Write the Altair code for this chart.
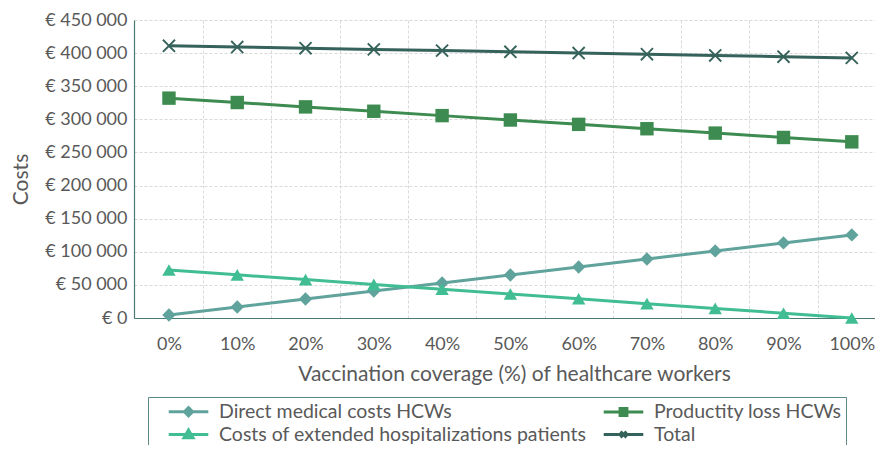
import altair as alt
import pandas as pd

coverage = [0, 10, 20, 30, 40, 50, 60, 70, 80, 90, 100]
direct_medical = [4500, 16600, 28700, 40800, 52900, 65000, 77100, 89200, 101300, 113400, 125500]
productivity_loss = [332000, 325400, 318800, 312200, 305600, 299000, 292400, 285800, 279200, 272600, 266000]
extended_hosp = [72500, 65200, 58000, 50700, 43500, 36200, 29000, 21700, 14500, 7200, 0]
total = [411000, 409200, 407400, 405600, 403800, 402000, 400100, 398300, 396500, 394600, 392800]

# legend order (column-major in two columns): Direct / Costs | Productity / Total
series_names = [
    "Direct medical costs HCWs",
    "Costs of extended hospitalizations patients",
    "Productity loss HCWs",
    "Total",
]
series_values = [direct_medical, extended_hosp, productivity_loss, total]
series_colors = ["#5fa39c", "#41bd94", "#3d8b50", "#35625a"]

X_PATH = "M-1,-0.8L-0.8,-1L0,-0.2L0.8,-1L1,-0.8L0.2,0L1,0.8L0.8,1L0,0.2L-0.8,1L-1,0.8L-0.2,0Z"
marker_shapes = ["diamond", "triangle-up", "square", X_PATH]
legend_shapes = [
    "M-2.2,0H2.2M0,-0.45L0.45,0L0,0.45L-0.45,0Z",
    "M-2.2,0H2.2M0,-0.5L0.5,0.36H-0.5Z",
    "M-2.2,0H2.2M-0.38,-0.38H0.38V0.38H-0.38Z",
    "M-2.2,0H2.2M-0.33,-0.33L0.33,0.33M-0.33,0.33L0.33,-0.33",
]

x_ticks = [0, 5, 10, 15, 20, 25, 30, 35, 40, 45, 50, 55, 60, 65, 70, 75, 80, 85, 90, 95, 100]
y_ticks = [0, 50000, 100000, 150000, 200000, 250000, 300000, 350000, 400000, 450000]

rows = []
for name, vals in zip(series_names, series_values):
    for c, v in zip(coverage, vals):
        rows.append({"coverage": c, "cost": v, "series": name})
df = pd.DataFrame(rows)

FONT = "Lato"
TXT = "#595959"
AXC = "#4a7a73"

x_enc = alt.X(
    "coverage:Q",
    scale=alt.Scale(domain=[-5.12, 103.4], nice=False, zero=False),
    axis=alt.Axis(
        title="Vaccination coverage (%) of healthcare workers",
        values=x_ticks,
        labelExpr="datum.value % 10 == 0 ? datum.value + '%' : ''",
        gridOpacity={"condition": {"test": "datum.value % 10 == 0", "value": 0}, "value": 1},
        grid=True,
        ticks=False,
        labelFlush=False,
        labelOverlap=False,
        labelPadding=17,
        titlePadding=10,
        titleX=380,
    ),
)
y_enc = alt.Y(
    "cost:Q",
    scale=alt.Scale(domain=[0, 450000], nice=False),
    axis=alt.Axis(
        title="Costs",
        values=y_ticks,
        labelExpr="'€ ' + replace(format(datum.value, ',.0f'), regexp(',', 'g'), ' ')",
        labelOverlap=False,
        grid=True,
        ticks=False,
        labelPadding=7,
        titlePadding=13,
        titleY=159,
    ),
)

# line colours: same mapping, listed in reverse so this scale stays separate from the legend's
line_color_scale = alt.Scale(domain=series_names[::-1], range=series_colors[::-1])
legend_color_scale = alt.Scale(domain=series_names, range=series_colors)

lines = alt.Chart(df).mark_line(strokeWidth=3).encode(
    x=x_enc,
    y=y_enc,
    color=alt.Color("series:N", scale=line_color_scale, legend=None),
)

point_layers = []
for name, shp in zip(series_names, marker_shapes):
    point_layers.append(
        alt.Chart(df)
        .transform_filter(alt.datum.series == name)
        .mark_point(filled=True, size=180, opacity=1, strokeWidth=0, shape=shp)
        .encode(
            x=x_enc,
            y=y_enc,
            color=alt.Color("series:N", scale=line_color_scale, legend=None),
        )
    )

leg = alt.Legend(
    orient="none",
    legendX=14,
    legendY=377,
    columns=2,
    title=" ",
    titleOrient="left",
    titleFontSize=10,
    titlePadding=26,
    padding=4,
    strokeColor="#5b8a84",
    labelFont=FONT,
    labelFontSize=19.5,
    labelColor=TXT,
    labelLimit=700,
    labelOffset=20,
    labelExpr="datum.label == 'Productity loss HCWs' ? datum.label + '           ' : datum.label",
    columnPadding=10,
    rowPadding=2,
    symbolSize=324,
    symbolStrokeWidth=3,
    symbolOpacity=1,
)

legend_layer = (
    alt.Chart(df)
    .transform_filter("false")
    .mark_point(filled=True, opacity=1)
    .encode(
        x=x_enc,
        y=y_enc,
        fill=alt.Fill("series:N", scale=legend_color_scale, legend=leg),
        stroke=alt.Stroke("series:N", scale=legend_color_scale, legend=leg),
        shape=alt.Shape("series:N", scale=alt.Scale(domain=series_names, range=legend_shapes), legend=leg),
    )
)

chart = (
    alt.layer(lines, *point_layers, legend_layer)
    .properties(
        width=741,
        height=298,
        autosize=alt.AutoSizeParams(type="none"),
        padding={"left": 126, "top": 12, "right": 0, "bottom": 127},
    )
    .configure_view(stroke=None)
    .configure_axis(
        labelFont=FONT,
        labelFontSize=18,
        labelColor=TXT,
        titleFont=FONT,
        titleFontSize=21,
        titleFontWeight="normal",
        titleColor=TXT,
        domainColor=AXC,
        domainWidth=1.2,
        gridColor="#d9d9d9",
        gridDash=[3, 2],
        gridWidth=1,
    )
)

chart.save("out.html", embed_options={"renderer": "svg", "actions": False})
